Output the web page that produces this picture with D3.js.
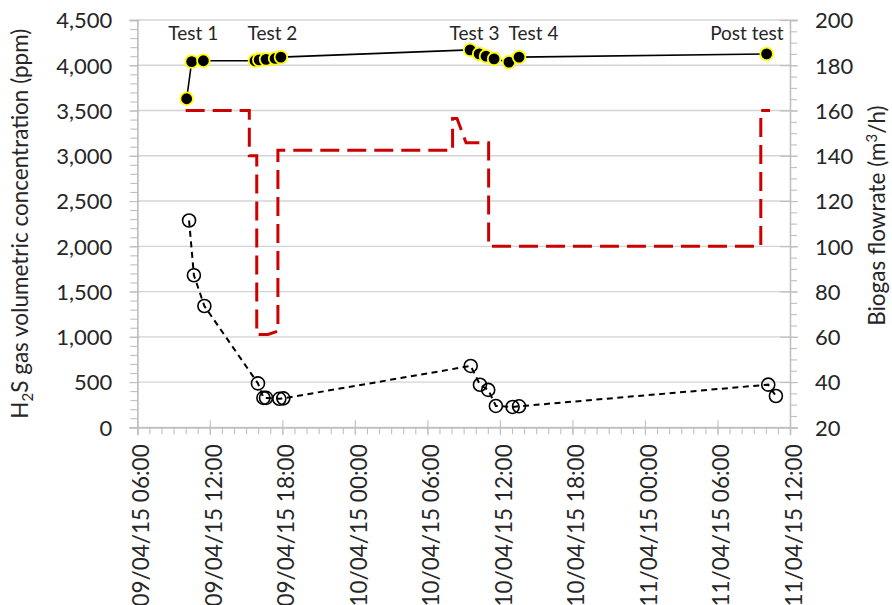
<!DOCTYPE html>
<html><head><meta charset="utf-8">
<script src="https://cdn.jsdelivr.net/npm/d3@7"></script>
<style>
html,body{margin:0;padding:0;background:#fff;}
svg{display:block;font-family:Lato, "Open Sans", sans-serif;}
</style></head>
<body>
<svg id="chart" width="892" height="605"></svg>
<script>
// ---------- data ----------
const inletTimes = ["2015-04-09 10:05","2015-04-09 10:30","2015-04-09 11:28","2015-04-09 15:44","2015-04-09 16:05","2015-04-09 16:39","2015-04-09 17:24","2015-04-09 17:53","2015-04-10 09:32","2015-04-10 10:17","2015-04-10 10:51","2015-04-10 11:31","2015-04-10 12:45","2015-04-10 13:35","2015-04-11 10:04"];
const inletH2S = [3630,4040,4050,4050,4060,4065,4075,4090,4170,4125,4100,4070,4035,4090,4125];

const outletTimes = ["2015-04-09 10:17","2015-04-09 10:41","2015-04-09 11:33","2015-04-09 15:59","2015-04-09 16:26","2015-04-09 16:39","2015-04-09 17:45","2015-04-09 18:05","2015-04-10 09:35","2015-04-10 10:21","2015-04-10 11:02","2015-04-10 11:40","2015-04-10 13:03","2015-04-10 13:35","2015-04-11 10:12","2015-04-11 10:50"];
const outletH2S = [2285,1680,1340,485,325,325,315,320,678,470,413,236,225,232,471,346];

const flowTimes = ["2015-04-09 10:00","2015-04-09 15:16","2015-04-09 15:16","2015-04-09 15:53","2015-04-09 15:53","2015-04-09 16:49","2015-04-09 17:38","2015-04-09 17:38","2015-04-10 08:05","2015-04-10 08:05","2015-04-10 08:27","2015-04-10 09:12","2015-04-10 11:04","2015-04-10 11:04","2015-04-11 09:35","2015-04-11 09:35","2015-04-11 10:21"];
const flowRate = [160,160,140,140,61,61,62.5,142.4,142.4,156.5,156.5,145.7,145.7,100,100,160,160];

const testLabels = ["Test 1","Test 2","Test 3","Test 4","Post test"];
const testTimes = ["2015-04-09 10:38","2015-04-09 17:11","2015-04-10 09:54","2015-04-10 14:47","2015-04-11 08:26"];
const testLevel = [4277,4277,4277,4277,4277];

const xDomain = ["2015-04-09 06:00","2015-04-11 12:00"];
const yLeftDomain = [0,4500];
const yRightDomain = [20,200];
const leftTitle = ["H","2","S gas volumetric concentration (ppm)"];
const rightTitle = ["Biogas flowrate (m","3","/h)"];

// ---------- layout ----------
const W = 892, H = 605;
const L = 137.3, R = 790, T = 20, B = 427.3;
const parse = d3.timeParse("%Y-%m-%d %H:%M");
const svg = d3.select("#chart");

const x = d3.scaleTime().domain(xDomain.map(parse)).range([L, R]);
const yL = d3.scaleLinear().domain(yLeftDomain).range([B, T]);
const yR = d3.scaleLinear().domain(yRightDomain).range([B, T]);

const axisCol = "#bfbfbf";
const gridCol = "#d4d4d4";

// gridlines
svg.append("g").selectAll("line").data(yL.ticks(9)).join("line")
  .attr("x1", L).attr("x2", R)
  .attr("y1", d => yL(d)).attr("y2", d => yL(d))
  .attr("stroke", gridCol).attr("stroke-width", 1.3);

// ----- axes -----
function styleAxis(g){
  g.select(".domain").attr("stroke", axisCol).attr("stroke-width", 1.3);
  g.selectAll(".tick line").attr("stroke", axisCol).attr("stroke-width", 1.1);
}
// x minor
svg.append("g").attr("transform", `translate(0,${B})`)
  .call(d3.axisBottom(x).ticks(d3.timeHour.every(1)).tickSize(7).tickFormat(""))
  .call(styleAxis);
// x major
const gx = svg.append("g").attr("transform", `translate(0,${B})`)
  .call(d3.axisBottom(x).ticks(d3.timeHour.every(6)).tickSize(8).tickFormat(d3.timeFormat("%d/%m/%y %H:%M")))
  .call(styleAxis);
gx.selectAll(".tick line").attr("y1", -7).attr("y2", 8);
gx.selectAll(".tick text")
  .attr("transform", "rotate(-90)")
  .attr("text-anchor", "end")
  .attr("x", -17).attr("y", 0).attr("dy", "0.5em")
  .attr("font-size", 22.5).attr("font-family", "Lato").attr("fill", "#262626");

// left minor
svg.append("g").attr("transform", `translate(${L},0)`)
  .call(d3.axisLeft(yL).ticks(45).tickSize(7).tickFormat(""))
  .call(styleAxis);
const gyl = svg.append("g").attr("transform", `translate(${L},0)`)
  .call(d3.axisLeft(yL).ticks(9).tickSize(8).tickFormat(d3.format(",")))
  .call(styleAxis);
gyl.selectAll(".tick line").attr("x1", 2).attr("x2", -8);
gyl.selectAll(".tick text").attr("x", -25).attr("dy", "0.36em")
  .attr("font-size", 22).attr("font-family", "Lato").attr("fill", "#262626");

// right minor
svg.append("g").attr("transform", `translate(${R},0)`)
  .call(d3.axisRight(yR).ticks(36).tickSize(7).tickFormat(""))
  .call(styleAxis);
const gyr = svg.append("g").attr("transform", `translate(${R},0)`)
  .call(d3.axisRight(yR).ticks(9).tickSize(8))
  .call(styleAxis);
gyr.selectAll(".tick line").attr("x1", -10).attr("x2", 8);
gyr.selectAll(".tick text").attr("x", 25).attr("dy", "0.36em")
  .attr("font-size", 22).attr("font-family", "Lato").attr("fill", "#262626");

// axis titles
const lt = svg.append("text")
  .attr("transform", `translate(28,${(T+B)/2}) rotate(-90)`)
  .attr("text-anchor", "middle").attr("font-size", 22.5).attr("fill", "#262626");
lt.append("tspan").text(leftTitle[0]);
lt.append("tspan").attr("font-size", 15).attr("dy", 5).text(leftTitle[1]);
lt.append("tspan").attr("dy", -5).text(leftTitle[2]);

const rt = svg.append("text")
  .attr("transform", `translate(885,${(T+B)/2 - 8}) rotate(-90)`)
  .attr("text-anchor", "middle").attr("font-size", 22.5).attr("fill", "#262626");
rt.append("tspan").text(rightTitle[0]);
rt.append("tspan").attr("font-size", 15).attr("dy", -8).text(rightTitle[1]);
rt.append("tspan").attr("dy", 8).text(rightTitle[2]);

// ----- series -----
const flowData = flowTimes.map((t,i)=>({t:parse(t), v:flowRate[i]}));
svg.append("path").datum(flowData)
  .attr("fill","none").attr("stroke","#cc0000").attr("stroke-width",3)
  .attr("stroke-dasharray","19,8")
  .attr("d", d3.line().x(d=>x(d.t)).y(d=>yR(d.v)));

const outData = outletTimes.map((t,i)=>({t:parse(t), v:outletH2S[i]}));
svg.append("path").datum(outData)
  .attr("fill","none").attr("stroke","#000").attr("stroke-width",2)
  .attr("stroke-dasharray","6,4.5")
  .attr("d", d3.line().x(d=>x(d.t)).y(d=>yL(d.v)));
svg.append("g").selectAll("circle").data(outData).join("circle")
  .attr("cx", d=>x(d.t)).attr("cy", d=>yL(d.v)).attr("r", 6.5)
  .attr("fill","none").attr("stroke","#000").attr("stroke-width",1.6);

const inData = inletTimes.map((t,i)=>({t:parse(t), v:inletH2S[i]}));
svg.append("path").datum(inData)
  .attr("fill","none").attr("stroke","#000").attr("stroke-width",1.6)
  .attr("d", d3.line().x(d=>x(d.t)).y(d=>yL(d.v)));
svg.append("g").selectAll("circle").data(inData).join("circle")
  .attr("cx", d=>x(d.t)).attr("cy", d=>yL(d.v)).attr("r", 6.3)
  .attr("fill","#000").attr("stroke","#ffff00").attr("stroke-width",1.8);

// annotations
svg.append("g").selectAll("text").data(testLabels).join("text")
  .attr("x", (d,i)=>x(parse(testTimes[i])))
  .attr("y", (d,i)=>yL(testLevel[i]))
  .attr("text-anchor","middle").attr("font-size",19).attr("fill","#262626")
  .text(d=>d);
</script>
</body></html>
